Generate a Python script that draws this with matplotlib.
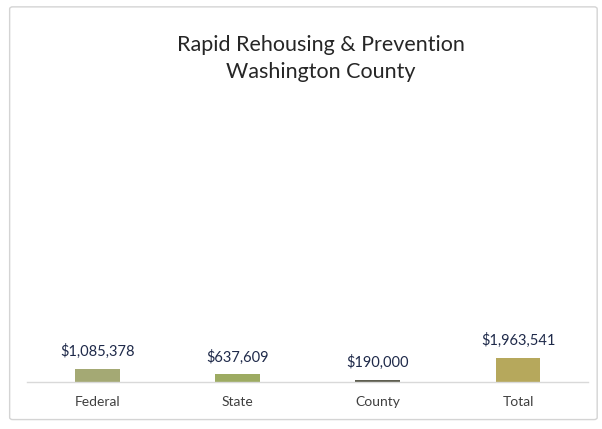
import matplotlib
matplotlib.use("Agg")
import matplotlib.pyplot as plt
from matplotlib.patches import FancyBboxPatch

# funding sources and amounts
categories = ["Federal", "State", "County", "Total"]
amounts = [1085378, 637609, 190000, 1963541]
bar_colors = ["#a4a974", "#9dab62", "#5e5e50", "#b6a85c"]

plt.rcParams["font.family"] = ["Lato", "DejaVu Sans"]

fig = plt.figure(figsize=(6.02, 4.29), dpi=100)
fig.patch.set_facecolor("white")

# light frame around the chart area
frame = FancyBboxPatch((0.016, 0.022), 0.976, 0.962, boxstyle="round,pad=0,rounding_size=0.005",
                       transform=fig.transFigure, facecolor="none", edgecolor="#d4d4d4",
                       linewidth=1.0, zorder=-1)
fig.patches.append(frame)

ax = fig.add_axes([0.045, 0.1096, 0.932, 0.669])
x = range(len(categories))
bars = ax.bar(x, amounts, width=0.32, color=bar_colors)

for xi, v in zip(x, amounts):
    ax.text(xi, v + 800000, "${:,}".format(v), ha="center", va="bottom",
            fontsize=10.5, color="#1f2a4a")

ax.set_xlim(-0.5, len(categories) - 0.5)
ax.set_ylim(0, 23.5e6)
ax.set_xticks(list(x))
ax.set_xticklabels(categories, fontsize=10, color="#404040")
ax.tick_params(axis="x", length=0, pad=10)
ax.set_yticks([])
for side in ["top", "right", "left"]:
    ax.spines[side].set_visible(False)
ax.spines["bottom"].set_color("#d9d9d9")
ax.spines["bottom"].set_linewidth(1.0)
ax.set_facecolor("none")

fig.text(0.533, 0.895, "Rapid Rehousing & Prevention", ha="center", va="center",
         fontsize=15.5, color="#262626")
fig.text(0.533, 0.832, "Washington County", ha="center", va="center",
         fontsize=15.5, color="#262626")

fig.savefig("out.png", dpi=100)
